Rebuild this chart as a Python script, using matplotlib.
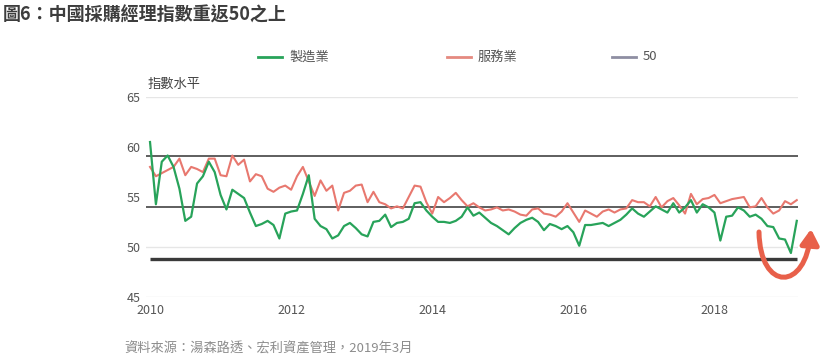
import matplotlib.pyplot as plt
import numpy as np
from matplotlib.lines import Line2D
from matplotlib.patches import FancyArrowPatch
from matplotlib.path import Path

plt.rcParams["font.family"] = ["Noto Sans CJK TC", "DejaVu Sans"]

# monthly index readings, Jan 2010 .. Mar 2019
START_YEAR = 2010
manufacturing = [
    61.3, 55.3, 59.4, 60.0, 58.9, 56.8, 53.7, 54.1, 57.3, 58.0, 59.4, 58.4,
    56.2, 54.8, 56.7, 56.3, 55.9, 54.5, 53.2, 53.4, 53.7, 53.3, 52.0, 54.4,
    54.6, 54.7, 56.3, 58.1, 53.9, 53.2, 52.9, 52.0, 52.3, 53.2, 53.5, 53.0,
    52.4, 52.2, 53.6, 53.7, 54.3, 53.1, 53.5, 53.6, 53.9, 55.4, 55.5, 54.7,
    54.1, 53.6, 53.6, 53.5, 53.7, 54.1, 55.0, 54.2, 54.5, 54.0, 53.5, 53.2,
    52.8, 52.4, 53.0, 53.5, 53.8, 54.0, 53.6, 52.8, 53.4, 53.2, 52.9, 53.2,
    52.6, 51.3, 53.3, 53.3, 53.4, 53.5, 53.2, 53.5, 53.8, 54.3, 54.9, 54.4,
    54.1, 54.6, 55.1, 54.8, 54.5, 55.4, 54.5, 55.0, 55.7, 54.5, 55.3, 55.0,
    54.5, 51.8, 54.1, 54.2, 55.0, 54.7, 54.1, 54.3, 53.9, 53.2, 53.1, 52.0,
    51.9, 50.6, 53.7,
]
services = [
    58.9, 58.0, 58.3, 58.6, 58.9, 59.7, 58.1, 58.9, 58.7, 58.4, 59.7, 59.7,
    58.1, 58.0, 60.0, 59.1, 59.6, 57.5, 58.2, 58.0, 56.8, 56.5, 56.9, 57.1,
    56.7, 58.0, 58.9, 57.5, 56.1, 57.6, 56.6, 57.1, 54.7, 56.4, 56.6, 57.1,
    57.2, 55.5, 56.5, 55.5, 55.3, 54.9, 55.1, 54.9, 56.0, 57.1, 57.0, 55.5,
    54.4, 56.0, 55.5, 55.9, 56.4, 55.7, 55.1, 55.4, 55.0, 54.7, 54.8, 55.0,
    54.7, 54.8, 54.6, 54.3, 54.2, 54.8, 54.9, 54.4, 54.3, 54.1, 54.6, 55.4,
    54.5, 53.6, 54.7, 54.4, 54.1, 54.6, 54.8, 54.5, 54.8, 54.9, 55.7, 55.5,
    55.5, 55.1, 56.0, 55.0, 55.6, 55.9, 55.2, 54.4, 56.3, 55.3, 55.8, 55.9,
    56.2, 55.4, 55.6, 55.8, 55.9, 56.0, 55.0, 55.1, 55.9, 55.0, 54.4, 54.7,
    55.6, 55.3, 55.7,
]
threshold = 50
reference_levels = [55, 60]
year_ticks = [2010, 2012, 2014, 2016, 2018]
level_ticks = [45, 50, 55, 60, 65]

GREEN = "#28a35a"
SALMON = "#e8786f"
W, H = 836, 360


def fx(px):
    return px / W


def fy(py):
    return 1 - py / H


fig = plt.figure(figsize=(W / 100, H / 100), dpi=100)
ax = fig.add_axes([fx(146), fy(297), fx(798) - fx(146), fy(97) - fy(297)])

years = START_YEAR + np.arange(len(manufacturing)) / 12
ax.set_xlim(2009.943, 2019.184)
ax.set_ylim(45, 65)
for v in (45, 50, 65):
    ax.axhline(v, color="#e6e6e6", lw=1, zorder=0)
ax.set_xticks(year_ticks)
ax.set_yticks(level_ticks)
ax.tick_params(length=0, labelsize=9, labelcolor="#555555")
ax.tick_params(axis="y", pad=4)
ax.tick_params(axis="x", pad=5)
for lbl in ax.get_yticklabels():
    lbl.set_va("center_baseline")
for s in ax.spines.values():
    s.set_visible(False)

# the lines in the source sit on a slightly different scale than its labels
ax2 = ax.twinx()
ax2.set_ylim(46.36, 65.64)
ax2.axis("off")
for v in reference_levels:
    ax2.axhline(v, color="#333333", lw=1.1)
ax2.plot(years, [threshold] * len(years), color="#3a3a3a", lw=2.4,
         solid_capstyle="butt")
ax2.plot(years, services, color=SALMON, lw=1.5)
ax2.plot(years, manufacturing, color=GREEN, lw=1.6)

# title, axis caption, source
fig.text(fx(3), fy(15), "圖6：中國採購經理指數重返50之上", fontsize=13,
         weight="bold", color="#3d3d3d", va="center", ha="left")
fig.text(fx(148), fy(84), "指數水平", fontsize=9.5, color="#444444",
         va="center")
fig.text(fx(124), fy(349), "資料來源：湯森路透、宏利資產管理，2019年3月",
         fontsize=9.5, color="#8c8c8c", va="center")

# legend drawn by hand to keep the wide, uneven spacing
legend = [
    (258, "製造業", GREEN),
    (447, "服務業", "#e58a80"),
    (612, "50", "#8e8ea2"),
]
for x0, label, c in legend:
    fig.add_artist(Line2D([fx(x0), fx(x0 + 24)], [fy(57), fy(57)],
                          transform=fig.transFigure, color=c, lw=2))
    fig.text(fx(x0 + 31), fy(57), label, fontsize=9.5, color="#555555",
             va="center")

# curved red arrow at the right end
verts = [(759, 232), (760, 292), (806, 292), (811, 229)]
verts = [(fx(x), fy(y)) for x, y in verts]
arrow = FancyArrowPatch(
    path=Path(verts, [Path.MOVETO, Path.CURVE4, Path.CURVE4, Path.CURVE4]),
    arrowstyle="-|>,head_length=9,head_width=5.5",
    transform=fig.transFigure, color="#e8604a", lw=3.6,
    mutation_scale=1, clip_on=False,
)
fig.add_artist(arrow)

fig.savefig("out.png", dpi=100)
